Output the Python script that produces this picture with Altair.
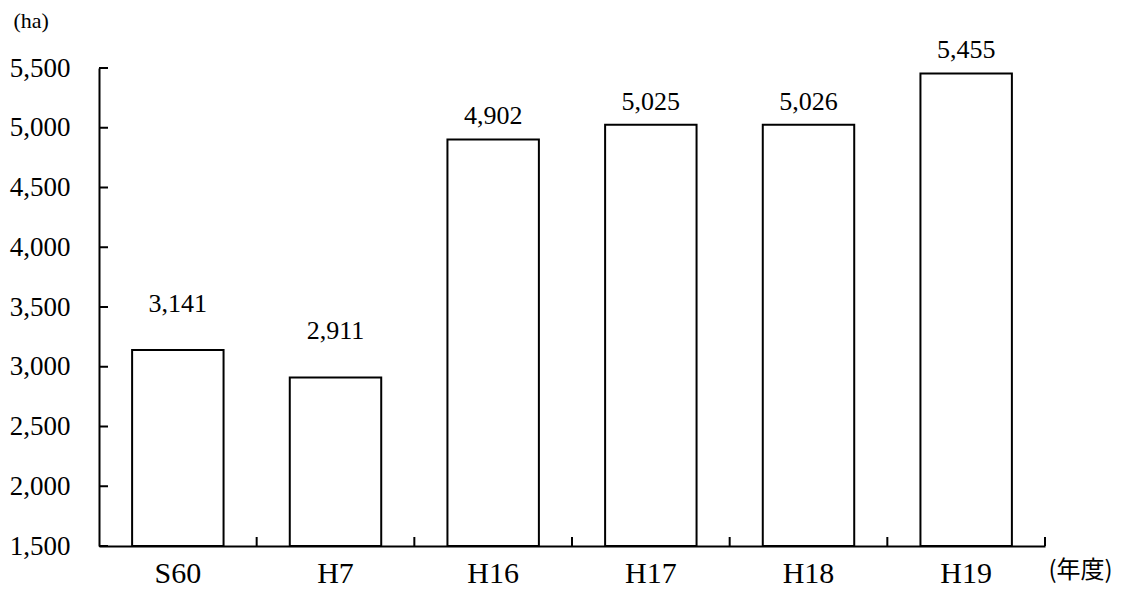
import altair as alt
import pandas as pd

# ---- data ----
years = ["S60", "H7", "H16", "H17", "H18", "H19"]
areas = [3141, 2911, 4902, 5025, 5026, 5455]
y_tick_values = [1500, 2000, 2500, 3000, 3500, 4000, 4500, 5000, 5500]
band_edges = [1, 2, 3, 4, 5, 6]   # boundaries between the year categories

# labels of these years sit higher above their bars in the reference
raised = ["S60", "H7"]

W, H = 946, 478
SERIF = "Liberation Serif"
CJK = "Noto Sans CJK JP"

df = pd.DataFrame({"year": years, "area": areas})
df["label"] = [f"{v:,}" for v in areas]
ticks_df = pd.DataFrame({"area": y_tick_values})
edges_df = pd.DataFrame({"edge": band_edges})

x_enc = alt.X(
    "year:N",
    sort=years,
    scale=alt.Scale(paddingInner=0.42, paddingOuter=0.21),
    axis=alt.Axis(
        title="(年度)", titleFont=CJK, titleFontSize=24, titleFontWeight="normal",
        titleColor="black", titleX=949, titleY=24, titleAlign="left",
        titleBaseline="middle",
        labelAngle=0, labelFont=SERIF, labelFontSize=30, labelPadding=12,
        labelColor="black", ticks=False, tickSize=0,
        domainColor="black", domainWidth=2,
    ),
)

y_enc = alt.Y(
    "area:Q",
    scale=alt.Scale(domain=[1500, 5500], nice=False, zero=False),
    axis=alt.Axis(
        values=y_tick_values, format=",.0f",
        title="(ha)", titleAngle=0, titleX=-86, titleY=-48, titleAlign="left",
        titleBaseline="middle", titleFont=SERIF, titleFontSize=22,
        titleFontWeight="normal", titleColor="black",
        labelFont=SERIF, labelFontSize=27, labelPadding=29, labelColor="black",
        ticks=False, tickSize=0, grid=False,
        domainColor="black", domainWidth=2,
    ),
)

bars = alt.Chart(df).mark_bar(fill="white", stroke="black", strokeWidth=2).encode(
    x=x_enc, y=y_enc, y2=alt.datum(1500)
)

label_enc = dict(x=alt.X("year:N", sort=years), y=y_enc, text="label:N")
labels_low = alt.Chart(df).transform_filter(
    alt.FieldOneOfPredicate(field="year", oneOf=raised)
).mark_text(
    font=SERIF, fontSize=26, baseline="alphabetic", dy=-38, color="black"
).encode(**label_enc)
labels_high = alt.Chart(df).transform_filter(
    ~alt.FieldOneOfPredicate(field="year", oneOf=raised)
).mark_text(
    font=SERIF, fontSize=26, baseline="alphabetic", dy=-15, color="black"
).encode(**label_enc)

y_ticks = alt.Chart(ticks_df).mark_rule(color="black", strokeWidth=2).encode(
    y=y_enc, x=alt.value(0), x2=alt.value(9)
)

inner = alt.layer(bars, labels_low, labels_high, y_ticks)

x_ticks = alt.Chart(edges_df).mark_rule(color="black", strokeWidth=2).encode(
    x=alt.X("edge:Q", scale=alt.Scale(domain=[0, 6], nice=False, zero=False), axis=None),
    y=alt.value(H), y2=alt.value(H - 9),
)

chart = (
    alt.layer(inner, x_ticks)
    .resolve_scale(x="independent")
    .properties(
        width=W, height=H,
        padding={"left": 91, "top": 60, "right": 75, "bottom": 43},
        autosize="none", background="white",
    )
    .configure_view(strokeWidth=0)
)

chart.save("out.html", embed_options={"renderer": "svg", "actions": False})
